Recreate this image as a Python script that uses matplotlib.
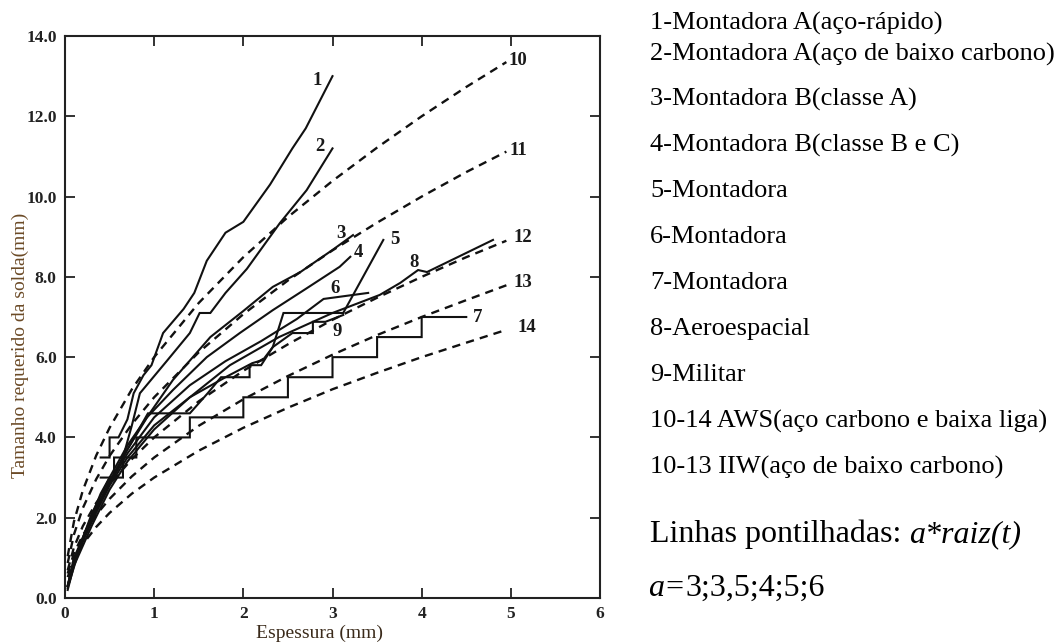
import matplotlib.pyplot as plt
from matplotlib.ticker import FormatStrFormatter

# curvas solidas (espessura mm, tamanho mm)
c1_x = [0.4, 0.5, 0.5, 0.6, 0.7, 0.77, 0.88, 0.97, 1.1, 1.33, 1.45, 1.59, 1.8, 2.0, 2.3, 2.55, 2.7, 3.0]
c1_y = [3.5, 3.5, 4.0, 4.0, 4.45, 5.1, 5.55, 5.8, 6.6, 7.2, 7.6, 8.4, 9.1, 9.37, 10.3, 11.2, 11.7, 13.0]
c2_x = [0.4, 0.55, 0.55, 0.65, 0.75, 0.84, 1.14, 1.4, 1.51, 1.63, 1.8, 2.04, 2.41, 2.71, 3.0]
c2_y = [3.0, 3.0, 3.5, 3.5, 4.3, 5.1, 5.9, 6.6, 7.1, 7.1, 7.6, 8.2, 9.34, 10.16, 11.2]
c3_x = [0.03, 0.1, 0.3, 0.5, 0.7, 0.95, 1.21, 1.63, 2.0, 2.33, 2.64, 3.0, 3.23]
c3_y = [0.3, 0.9, 2.1, 3.0, 3.8, 4.6, 5.43, 6.5, 7.15, 7.75, 8.12, 8.67, 9.04]
c4_x = [0.03, 0.1, 0.3, 0.5, 0.7, 0.92, 1.21, 1.59, 1.96, 2.33, 2.7, 3.08, 3.2]
c4_y = [0.25, 0.85, 2.0, 2.9, 3.7, 4.5, 5.18, 6.0, 6.6, 7.17, 7.7, 8.25, 8.5]
c5_x = [0.03, 0.1, 0.3, 0.5, 0.7, 1.0, 1.4, 1.8, 2.1, 2.22, 2.33, 2.45, 3.12, 3.57]
c5_y = [0.3, 0.9, 1.9, 2.8, 3.5, 4.3, 5.0, 5.5, 5.85, 5.93, 6.25, 7.1, 7.1, 8.92]
c6_x = [0.03, 0.1, 0.3, 0.5, 0.7, 1.0, 1.4, 1.8, 2.2, 2.6, 2.9, 3.4]
c6_y = [0.3, 0.95, 1.95, 2.85, 3.6, 4.5, 5.3, 5.9, 6.4, 6.95, 7.45, 7.6]
c7_x = [0.05, 0.2, 0.4, 0.5, 0.65, 0.65, 0.8, 0.8, 1.4, 1.4, 2.0, 2.0, 2.5, 2.5, 3.0, 3.0, 3.5, 3.5, 4.0, 4.0, 4.5]
c7_y = [0.4, 1.5, 2.6, 3.0, 3.0, 3.5, 3.5, 4.0, 4.0, 4.5, 4.5, 5.0, 5.0, 5.5, 5.5, 6.0, 6.0, 6.5, 6.5, 7.0, 7.0]
c8_x = [0.03, 0.1, 0.3, 0.5, 0.7, 1.0, 1.4, 1.85, 2.4, 3.0, 3.53, 3.76, 3.96, 4.06, 4.8]
c8_y = [0.2, 0.8, 1.8, 2.7, 3.4, 4.2, 5.0, 5.8, 6.5, 7.1, 7.55, 7.85, 8.17, 8.12, 8.92]
c9_x = [0.03, 0.1, 0.3, 0.5, 0.7, 0.93, 1.4, 1.6, 1.75, 2.07, 2.07, 2.2, 2.33, 2.55, 2.78, 2.78, 2.92, 3.12]
c9_y = [0.3, 1.0, 2.0, 2.9, 3.7, 4.6, 4.6, 5.1, 5.5, 5.5, 5.8, 5.8, 6.25, 6.6, 6.6, 6.88, 6.88, 7.05]

# curvas tracejadas (AWS / IIW)
t = [0.03, 0.1, 0.2, 0.35, 0.5, 0.75, 1.0, 1.5, 2.0, 2.5, 3.0, 3.5, 4.0, 4.5, 4.95]
c10 = [1.04, 1.9, 2.68, 3.55, 4.24, 5.2, 6.0, 7.35, 8.49, 9.49, 10.39, 11.22, 12.0, 12.73, 13.35]
c11 = [0.87, 1.58, 2.24, 2.96, 3.54, 4.33, 5.0, 6.12, 7.07, 7.91, 8.66, 9.35, 10.0, 10.61, 11.12]
c12 = [0.69, 1.26, 1.79, 2.37, 2.83, 3.46, 4.0, 4.9, 5.66, 6.32, 6.93, 7.48, 8.0, 8.49, 8.9]
c13 = [0.61, 1.11, 1.57, 2.07, 2.47, 3.03, 3.5, 4.29, 4.95, 5.53, 6.06, 6.55, 7.0, 7.42, 7.79]
c14 = [0.52, 0.95, 1.34, 1.77, 2.12, 2.6, 3.0, 3.67, 4.24, 4.74, 5.2, 5.61, 6.0, 6.36, 6.68]

lab_txt = ['1', '2', '3', '4', '5', '6', '7', '8', '9', '10', '11', '12', '13', '14']
lab_x = [2.83, 2.86, 3.1, 3.29, 3.7, 3.03, 4.63, 3.92, 3.05, 5.08, 5.08, 5.13, 5.13, 5.18]
lab_y = [12.9, 11.24, 9.09, 8.6, 8.92, 7.72, 6.98, 8.37, 6.63, 13.4, 11.14, 8.99, 7.85, 6.75]

legenda = ['1-Montadora A(aço-rápido)', '2-Montadora A(aço de baixo carbono)',
           '3-Montadora B(classe A)', '4-Montadora B(classe B e C)', '5-Montadora',
           '6-Montadora', '7-Montadora', '8-Aeroespacial', '9-Militar',
           '10-14 AWS(aço carbono e baixa liga)', '10-13 IIW(aço de baixo carbono)']
leg_base = [30, 61, 106, 152, 197, 243, 289, 335, 381, 428, 474]

serif = 'Liberation Serif'
W, H = 1062, 644
fig = plt.figure(figsize=(W / 100, H / 100), dpi=100)
ax = fig.add_axes([65 / W, 1 - 598 / H, 535 / W, 562 / H])

solid = [(c1_x, c1_y), (c2_x, c2_y), (c3_x, c3_y), (c4_x, c4_y), (c5_x, c5_y),
         (c6_x, c6_y), (c7_x, c7_y), (c8_x, c8_y), (c9_x, c9_y)]
for xs, ys in solid:
    ax.plot(xs, ys, color='#111111', lw=1.5, solid_joinstyle='miter')
for ys in [c10, c11, c12, c13, c14]:
    ax.plot(t, ys, color='#111111', lw=1.7, dashes=(3.5, 2.6))

for s, x, y in zip(lab_txt, lab_x, lab_y):
    ax.text(x, y, s, ha='center', va='center', fontsize=13.5, family=serif,
            fontweight='bold', color='#1a1a1a')

ax.set_xlim(0, 6)
ax.set_ylim(0, 14)
ax.set_xticks(range(0, 7))
ax.set_yticks([0, 2, 4, 6, 8, 10, 12, 14])
ax.yaxis.set_major_formatter(FormatStrFormatter('%.1f'))
ax.tick_params(direction='in', length=7, width=1.3, top=True, right=True,
               labelsize=12.5, pad=6, colors='#222222')
for lb in ax.get_xticklabels() + ax.get_yticklabels():
    lb.set_family(serif)
    lb.set_fontweight('bold')
for sp in ax.spines.values():
    sp.set_linewidth(1.5)
    sp.set_color('#222222')

fig.text(320 / W, 1 - 633 / H, 'Espessura (mm)', ha='center', va='center',
         fontsize=14, family=serif, color='#3a2a1a')
fig.text(20 / W, 1 - 345 / H, 'Tamanho requerido da solda(mm)', ha='center',
         va='center', rotation=90, fontsize=14, family=serif, color='#6b4a26')

for s, b in zip(legenda, leg_base):
    fig.text(650 / W, 1 - b / H, s, ha='left', va='baseline', fontsize=19,
             family=serif, color='black')

r = fig.canvas.get_renderer()
t1 = fig.text(650 / W, 1 - 542 / H, 'Linhas pontilhadas: ', ha='left',
              va='baseline', fontsize=23, family=serif)
w1 = t1.get_window_extent(r).width
fig.text((650 + w1) / W, 1 - 542 / H, 'a*raiz(t)', ha='left', va='baseline',
         fontsize=23, family=serif, style='italic')
t2 = fig.text(648 / W, 1 - 596 / H, 'a=', ha='left', va='baseline',
              fontsize=23, family=serif, style='italic')
w2 = t2.get_window_extent(r).width
fig.text((648 + w2) / W, 1 - 596 / H, '3;3,5;4;5;6', ha='left', va='baseline',
         fontsize=23, family=serif)

fig.savefig('out.png', dpi=100)
